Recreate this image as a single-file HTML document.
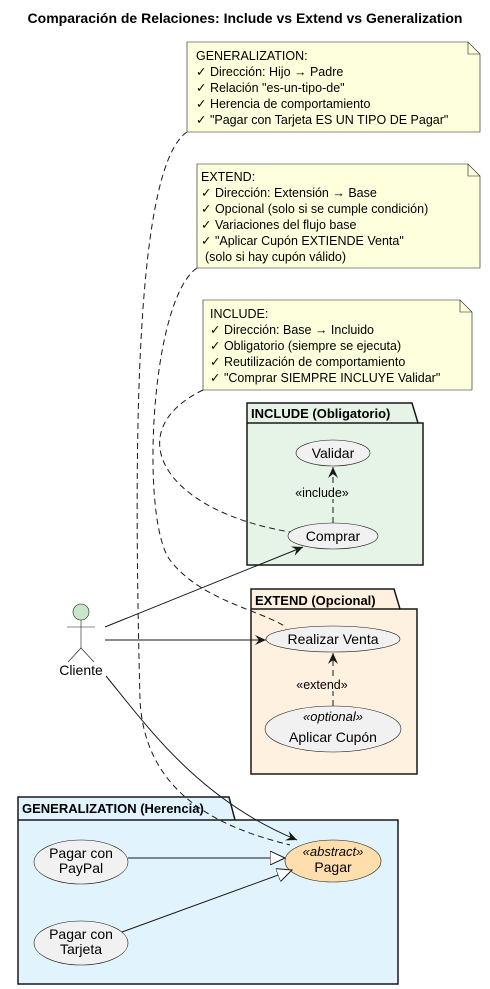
<!DOCTYPE html>
<html><head><meta charset="utf-8"><style>body{margin:0;background:#fff}svg{display:block}text{font-family:"Liberation Sans","DejaVu Sans",sans-serif}</style></head><body>
<svg width="490" height="989" viewBox="0 0 490 989" xmlns="http://www.w3.org/2000/svg">
<defs>
<marker id="a" viewBox="0 0 12 10" refX="11" refY="5" markerWidth="12" markerHeight="10" orient="auto" markerUnits="userSpaceOnUse"><path d="M0,0 L11,5 L0,10 L4,5 Z" fill="#181818"/></marker>
<marker id="t" viewBox="0 0 16 14" refX="15" refY="7" markerWidth="16" markerHeight="14" orient="auto" markerUnits="userSpaceOnUse"><path d="M0,0 L15,7 L0,14 Z" fill="#fff" stroke="#181818"/></marker>
</defs>
<text x="245" y="23" text-anchor="middle" font-size="14" font-weight="bold">Comparación de Relaciones: Include vs Extend vs Generalization</text>

<g stroke="#181818" stroke-width="0.6" fill="#FEFFDD">
<path d="M187,42 H468 L480,54 V132 H187 Z"/><path d="M468,42 V54 H480" fill="none"/>
<path d="M197,164 H468 L480,176 V268 H197 Z"/><path d="M468,164 V176 H480" fill="none"/>
<path d="M203,300 H460 L472,312 V390 H203 Z"/><path d="M460,300 V312 H472" fill="none"/>
</g>
<g font-size="12.5" fill="#000">
<text x="196" y="60">GENERALIZATION:</text>
<text x="196" y="76">✓ Dirección: Hijo → Padre</text>
<text x="196" y="92">✓ Relación "es-un-tipo-de"</text>
<text x="196" y="108">✓ Herencia de comportamiento</text>
<text x="196" y="124">✓ "Pagar con Tarjeta ES UN TIPO DE Pagar"</text>
<text x="201" y="181">EXTEND:</text>
<text x="201" y="197">✓ Dirección: Extensión → Base</text>
<text x="201" y="213">✓ Opcional (solo si se cumple condición)</text>
<text x="201" y="229">✓ Variaciones del flujo base</text>
<text x="201" y="245">✓ "Aplicar Cupón EXTIENDE Venta"</text>
<text x="205" y="261">(solo si hay cupón válido)</text>
<text x="210" y="318">INCLUDE:</text>
<text x="210" y="334">✓ Dirección: Base → Incluido</text>
<text x="210" y="350">✓ Obligatorio (siempre se ejecuta)</text>
<text x="210" y="366">✓ Reutilización de comportamiento</text>
<text x="210" y="382">✓ "Comprar SIEMPRE INCLUYE Validar"</text>
</g>

<g stroke="#181818" stroke-width="1.5">
<path d="M247,423 V403 H412 L418,423 H423 V565 H247 Z" fill="#E6F4E7"/><line x1="247" y1="423" x2="418" y2="423"/>
<path d="M251,609 V589 H394 L400,609 H417 V774 H251 Z" fill="#FFF1E0"/><line x1="251" y1="609" x2="400" y2="609"/>
<path d="M18,820 V797 H229 L235,820 H398 V984 H18 Z" fill="#E1F4FD"/><line x1="18" y1="820" x2="235" y2="820"/>
</g>
<g font-size="13" font-weight="bold">
<text x="251" y="418">INCLUDE (Obligatorio)</text>
<text x="255" y="605">EXTEND (Opcional)</text>
<text x="22" y="813">GENERALIZATION (Herencia)</text>
</g>

<g fill="none" stroke="#181818" stroke-dasharray="6,4" stroke-width="1">
<path d="M187,132 C130,170 135,500 140,700 C145,800 230,830 290,845"/>
<path d="M197,268 C150,300 140,520 170,560 C200,600 260,610 286,627"/>
<path d="M203,390 C120,430 160,510 290,532"/>
</g>

<g stroke="#181818" stroke-width="0.6" fill="none">
<circle cx="81" cy="612" r="8" fill="#C8E6C9"/>
<line x1="81" y1="620" x2="81" y2="648"/>
<line x1="67" y1="627" x2="95" y2="627"/>
<path d="M68,662 L81,648 L94,662"/>
</g>
<text x="81" y="675" text-anchor="middle" font-size="14">Cliente</text>

<g stroke="#181818" stroke-width="0.6" fill="#F1F1F1">
<ellipse cx="333" cy="453" rx="37" ry="13"/>
<ellipse cx="333" cy="536" rx="45" ry="13"/>
<ellipse cx="333" cy="639" rx="67" ry="13"/>
<ellipse cx="333" cy="729" rx="68" ry="23"/>
<ellipse cx="81" cy="862" rx="47" ry="22"/>
<ellipse cx="81" cy="943" rx="47" ry="22"/>
<ellipse cx="333" cy="861" rx="48" ry="21" fill="#FFDEAD"/>
</g>
<g font-size="14" text-anchor="middle">
<text x="333" y="458">Validar</text>
<text x="333" y="541">Comprar</text>
<text x="333" y="644">Realizar Venta</text>
<text x="333" y="721" font-style="italic" font-size="13">«optional»</text>
<text x="333" y="742">Aplicar Cupón</text>
<text x="81" y="858">Pagar con</text>
<text x="81" y="873">PayPal</text>
<text x="81" y="939">Pagar con</text>
<text x="81" y="954">Tarjeta</text>
<text x="333" y="856" font-style="italic" font-size="13">«abstract»</text>
<text x="333" y="872">Pagar</text>
</g>

<g fill="none" stroke="#181818" stroke-width="1">
<line x1="333" y1="523" x2="333" y2="467" stroke-dasharray="6,4" marker-end="url(#a)"/>
<line x1="333" y1="706" x2="333" y2="653" stroke-dasharray="6,4" marker-end="url(#a)"/>
<line x1="105" y1="627" x2="303" y2="547" marker-end="url(#a)"/>
<line x1="105" y1="640" x2="266" y2="640" marker-end="url(#a)"/>
<path d="M106,676 C150,730 200,800 297,840" marker-end="url(#a)"/>
<line x1="128" y1="858" x2="285" y2="858" marker-end="url(#t)"/>
<line x1="122" y1="932" x2="292" y2="870" marker-end="url(#t)"/>
</g>
<rect x="294" y="485" width="56" height="14" fill="#E6F4E7"/>
<text x="322" y="497" text-anchor="middle" font-size="12.5">«include»</text>
<rect x="292" y="677" width="60" height="14" fill="#FFF1E0"/>
<text x="322" y="689" text-anchor="middle" font-size="12.5">«extend»</text>
</svg>
</body></html>
